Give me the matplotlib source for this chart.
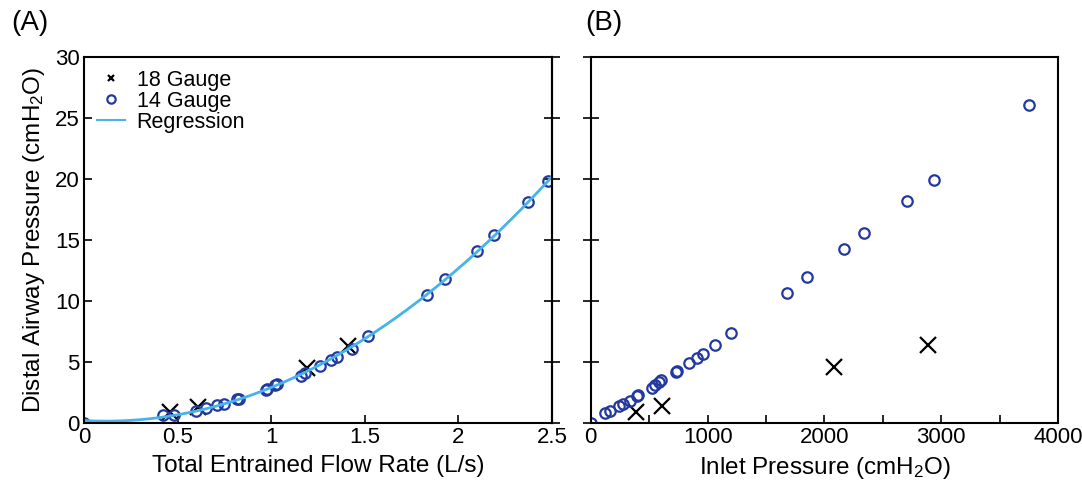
import matplotlib
matplotlib.use("Agg")
import matplotlib.pyplot as plt
import numpy as np

plt.rcParams['font.family'] = ['Liberation Sans', 'DejaVu Sans']
plt.rcParams['mathtext.fontset'] = 'custom'
plt.rcParams['mathtext.rm'] = 'Liberation Sans'
plt.rcParams['mathtext.it'] = 'Liberation Sans:italic'

# panel A: distal pressure vs total entrained flow
flow14 = [0.0, 0.42, 0.48, 0.60, 0.65, 0.71, 0.75, 0.82, 0.83, 0.97, 0.98, 1.02, 1.03,
          1.16, 1.18, 1.26, 1.32, 1.35, 1.43, 1.52, 1.83, 1.93, 2.10, 2.19, 2.37, 2.48]
pdist14_a = [0.0, 0.65, 0.7, 1.0, 1.2, 1.5, 1.6, 2.0, 2.0, 2.7, 2.8, 3.1, 3.2,
             3.9, 4.1, 4.7, 5.2, 5.4, 6.1, 7.1, 10.5, 11.8, 14.1, 15.4, 18.1, 19.8]
flow18 = [0.46, 0.61, 1.19, 1.41]
pdist18_a = [0.9, 1.3, 4.5, 6.3]

# panel B: distal pressure vs inlet pressure
pin14 = [0, 120, 163, 240, 274, 334, 394, 403, 522, 548, 582, 600, 728, 737,
         839, 908, 959, 1062, 1199, 1679, 1850, 2167, 2338, 2707, 2938, 3752]
pdist14_b = [0.0, 0.8, 1.0, 1.4, 1.6, 1.8, 2.2, 2.3, 2.9, 3.1, 3.4, 3.5, 4.2, 4.3,
             4.9, 5.3, 5.7, 6.4, 7.4, 10.7, 12.0, 14.3, 15.6, 18.2, 19.9, 26.1]
pin18 = [385, 608, 2080, 2887]
pdist18_b = [0.9, 1.4, 4.6, 6.4]

navy = '#2239a0'
light = '#45b4ea'

fig = plt.figure(figsize=(10.82, 4.83), dpi=100)
axA = fig.add_axes([0.0776, 0.124, 0.4325, 0.758])
axB = fig.add_axes([0.546, 0.124, 0.432, 0.758])

# regression (quadratic least squares on the 14 gauge points)
coef = np.polyfit(flow14, pdist14_a, 2)
xr = np.linspace(0, 2.5, 200)

axA.plot(flow18, pdist18_a, 'x', color='black', ms=11, mew=1.6)
axA.plot(flow14, pdist14_a, 'o', mfc='none', mec=navy, ms=7.5, mew=1.6)
axA.plot(xr, np.polyval(coef, xr), color=light, lw=2)

# legend proxies
h1, = axA.plot([], [], 'x', color='black', ms=5, mew=1.6, label='18 Gauge')
h2, = axA.plot([], [], 'o', mfc='none', mec=navy, ms=6, mew=1.6, label='14 Gauge')
h3, = axA.plot([], [], color=light, lw=1.5, label='Regression')
axA.legend(handles=[h1, h2, h3], loc='upper left', frameon=False, fontsize=15.5,
           handlelength=1.3, handletextpad=0.55, labelspacing=0.0,
           borderaxespad=0.2, bbox_to_anchor=(0.0, 1.0))

axA.set_xlim(0, 2.5)
axA.set_ylim(0, 30)
axA.set_xticks([0, 0.5, 1, 1.5, 2, 2.5])
axA.set_xticklabels(['0', '0.5', '1', '1.5', '2', '2.5'])
axA.set_yticks([0, 5, 10, 15, 20, 25, 30])
axA.tick_params(direction='in', length=6, width=1.2, labelsize=16, pad=3)
sec = axA.secondary_yaxis('right')
sec.set_yticks([0, 5, 10, 15, 20, 25, 30])
sec.tick_params(direction='inout', length=12, width=1.2, labelright=False)
sec.spines['right'].set_linewidth(1.5)
axA.set_xlabel('Total Entrained Flow Rate (L/s)', fontsize=17.5, labelpad=5)
axA.set_ylabel('Distal Airway Pressure (cmH$_2$O)', fontsize=17.5, labelpad=6)

axB.plot(pin18, pdist18_b, 'x', color='black', ms=11, mew=1.6)
axB.plot(pin14, pdist14_b, 'o', mfc='none', mec=navy, ms=7.5, mew=1.6)
axB.set_xlim(0, 4000)
axB.set_ylim(0, 30)
axB.set_xticks([0, 1000, 2000, 3000, 4000])
axB.set_xticks([500, 1500, 2500, 3500], minor=True)
axB.set_yticks([0, 5, 10, 15, 20, 25, 30])
axB.tick_params(axis='x', which='both', direction='in', length=6, width=1.2, labelsize=16, pad=3)
axB.tick_params(axis='y', direction='inout', length=12, width=1.2, labelleft=False)
axB.set_xlabel('Inlet Pressure (cmH$_2$O)', fontsize=17.5, labelpad=5)

for ax in (axA, axB):
    for s in ax.spines.values():
        s.set_linewidth(1.5)

fig.text(0.010, 0.952, '(A)', fontsize=20, va='center')
fig.text(0.541, 0.952, '(B)', fontsize=20, va='center')

fig.savefig('out.png', dpi=100)
